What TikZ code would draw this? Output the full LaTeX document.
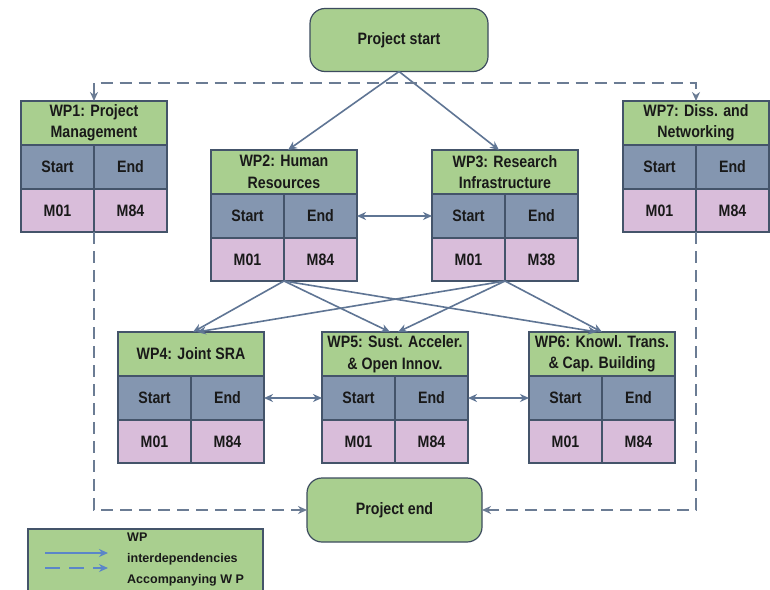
\documentclass[tikz,border=0pt]{standalone}
\usepackage{fontspec}
\setmainfont{Liberation Sans}
\newfontfamily\wpfont[FakeStretch=0.86]{Liberation Sans}
\usetikzlibrary{arrows.meta,calc}
\definecolor{tgreen}{HTML}{A9CF8F}
\definecolor{hdr}{HTML}{8496B0}
\definecolor{val}{HTML}{D9BDDA}
\definecolor{bord}{HTML}{44546A}
\definecolor{arr}{HTML}{5F7594}
\definecolor{darr}{HTML}{6B7C94}
\definecolor{larr}{HTML}{5B86C8}
\newcommand{\mainfs}{\wpfont\bfseries\fontsize{16.5bp}{21.5bp}\selectfont}
\newcommand{\wpbox}[6]{%
  \node[titlecell, anchor=north west] (#1t) at (#2,#3) {#4};
  \node[hdrcell, anchor=north west] (#1a) at (#1t.south west) {Start};
  \node[hdrcell, anchor=north east] (#1b) at (#1t.south east) {End};
  \node[valcell, anchor=north west] (#1c) at (#1a.south west) {#5};
  \node[valcell, anchor=north west] (#1d) at (#1b.south west) {#6};
}
\begin{document}
\begin{tikzpicture}[x=1bp,y=-1bp,
  cell/.style={draw=bord, line width=1.2bp, inner sep=0pt, outer sep=0pt, align=center, font=\mainfs, text=black!90},
  titlecell/.style={cell, fill=tgreen, minimum width=146bp, minimum height=44bp},
  hdrcell/.style={cell, fill=hdr, minimum width=73bp, minimum height=44bp},
  valcell/.style={cell, fill=val, minimum width=73bp, minimum height=43bp},
  milestone/.style={draw=bord!90!black, line width=1.2bp, fill=tgreen, rounded corners=15bp, inner sep=0pt, outer sep=0pt, font=\mainfs, text=black!90},
  dep/.style={draw=arr, line width=1.6bp, -{Stealth[length=9bp,width=8bp]}},
  dep2/.style={draw=arr, line width=1.6bp, {Stealth[length=9bp,width=8bp]}-{Stealth[length=9bp,width=8bp]}},
  accomp/.style={draw=darr, line width=1.5bp, dash pattern=on 12bp off 7bp, -{Stealth[length=9bp,width=8bp]}},
  legendbox/.style={draw=bord, line width=1.5bp, fill=tgreen, inner sep=0pt, outer sep=0pt, minimum width=235bp, minimum height=70bp, anchor=north west}
]
\useasboundingbox (0,0) rectangle (770,590);
\fill[white] (0,0) rectangle (770,590);

% milestones
\node[milestone, minimum width=178bp, minimum height=63bp] (pstart) at (399,40) {Project start};
\node[milestone, minimum width=175bp, minimum height=64bp] (pend) at (394.5,510) {Project end};

% work packages
\wpbox{wpA}{21}{101}{WP1: Project\\Management}{M01}{M84}
\wpbox{wpB}{211}{150}{WP2: Human\\Resources}{M01}{M84}
\wpbox{wpC}{432}{150}{WP3: Research\\Infrastructure}{M01}{M38}
\wpbox{wpG}{623}{101}{WP7: Diss. and\\Networking}{M01}{M84}
\wpbox{wpD}{118}{332}{WP4: Joint SRA}{M01}{M84}
\wpbox{wpE}{322}{332}{WP5: Sust. Acceler.\\\& Open Innov.}{M01}{M84}
\wpbox{wpF}{529}{332}{WP6: Knowl. Trans.\\\& Cap. Building}{M01}{M84}

% start to WP2, WP3
\draw[dep] (pstart.south) -- ($(wpBt.north)+(4,0)$);
\draw[dep] (pstart.south) -- ($(wpCt.north)+(-6,0)$);

% WP2 <-> WP3
\draw[dep2] (wpBb.east) -- (wpCa.west);

% WP2, WP3 to WP4, WP5, WP6
\draw[dep] (wpBc.south east) -- ($(wpDt.north)+(2,0)$);
\draw[dep] (wpBc.south east) -- ($(wpEt.north)+(-5,0)$);
\draw[dep] (wpBc.south east) -- ($(wpFt.north)+(-5,0)$);
\draw[dep] (wpCc.south east) -- ($(wpDt.north)+(6,0)$);
\draw[dep] (wpCc.south east) -- ($(wpEt.north)+(3,0)$);
\draw[dep] (wpCc.south east) -- ($(wpFt.north)+(0,0)$);

% WP4 <-> WP5 <-> WP6
\draw[dep2] (wpDb.east) -- (wpEa.west);
\draw[dep2] (wpEb.east) -- (wpFa.west);

% accompanying WPs
\coordinate (dashtop) at (400,83);
\draw[accomp, {Stealth[length=9bp,width=8bp]}-{Stealth[length=9bp,width=8bp]}] (wpAt.north -| wpAa.east) |- (dashtop) -| (wpGt.north -| wpGa.east);
\draw[accomp] (wpAc.south east) |- (pend.west);
\draw[accomp] (wpGc.south east) |- (pend.east);

% legend
\begin{scope}
\clip (0,0) rectangle (770,590);
\node[legendbox] (legend) at (28,529) {};
\end{scope}
\coordinate (l1a) at (45,553);
\coordinate (l1b) at (108,553);
\coordinate (l2a) at (45,568);
\coordinate (l2b) at (108,568);
\draw[draw=larr, line width=1.6bp, -{Stealth[length=9bp,width=8bp]}] (l1a) -- (l1b);
\draw[draw=larr, line width=1.6bp, dash pattern=on 15bp off 9bp, -{Stealth[length=9bp,width=8bp]}] (l2a) -- (l2b);
\node[anchor=north west, align=left, inner sep=0pt, font=\fontsize{12.5bp}{21bp}\selectfont\bfseries, text=black!90] (legtext) at (127,533) {WP\\interdependencies\\Accompanying W P};
\end{tikzpicture}
\end{document}
